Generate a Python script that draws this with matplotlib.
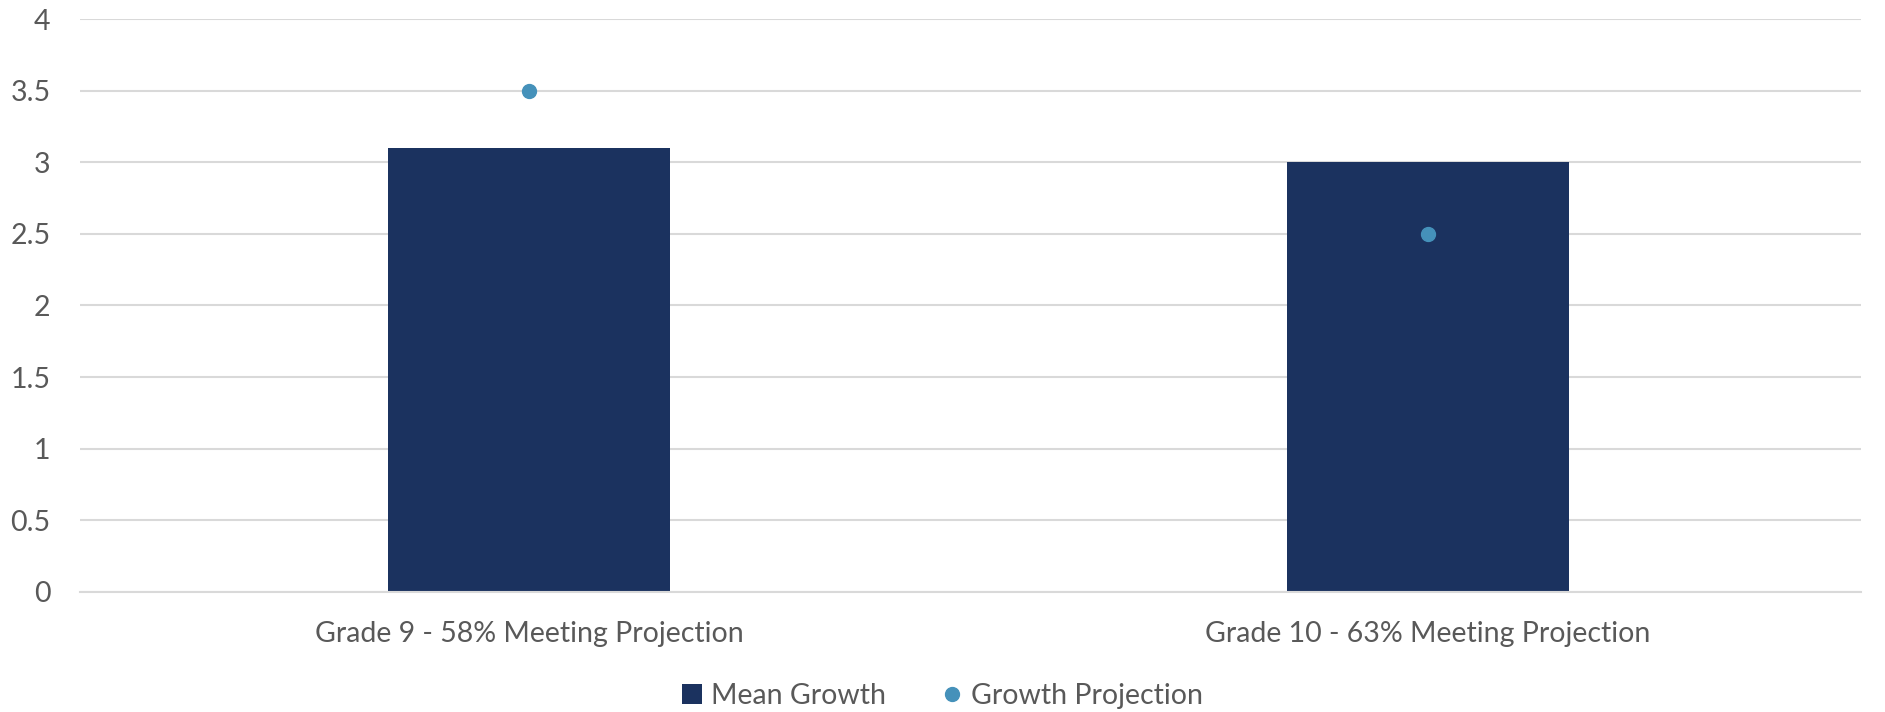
import matplotlib
matplotlib.use("Agg")
import matplotlib.pyplot as plt
import numpy as np

categories = ["Grade 9 - 58% Meeting Projection", "Grade 10 - 63% Meeting Projection"]
mean_growth = [3.1, 3.0]
growth_projection = [3.5, 2.5]
yticks = [0, 0.5, 1, 1.5, 2, 2.5, 3, 3.5, 4]
ytick_labels = ["0", "0.5", "1", "1.5", "2", "2.5", "3", "3.5", "4"]

plt.rcParams['font.family'] = ['Lato', 'DejaVu Sans']
text_color = "#595959"

fig = plt.figure(figsize=(18.85, 7.12), dpi=100)
ax = fig.add_axes([0.0422, 0.169, 0.945, 0.804])

x = np.arange(len(categories))
bars = ax.bar(x, mean_growth, width=0.313, color="#1B325F", zorder=2, label="Mean Growth")
pts, = ax.plot(x, growth_projection, linestyle="none", marker="o", markersize=10,
               color="#4591BA", zorder=3, label="Growth Projection")

ax.set_xlim(-0.5, 1.4816)
ax.set_ylim(0, 4)
ax.set_yticks(yticks)
ax.set_yticklabels(ytick_labels)
ax.set_xticks(x)
ax.set_xticklabels(categories)
ax.yaxis.grid(True, color="#D9D9D9", linewidth=1.5, zorder=0)
ax.set_axisbelow(True)
for s in ["top", "right", "left"]:
    ax.spines[s].set_visible(False)
ax.spines["bottom"].set_color("#D9D9D9")
ax.spines["bottom"].set_linewidth(1.5)
ax.tick_params(axis="both", length=0, labelsize=20.5, colors=text_color)
ax.tick_params(axis="x", pad=21)
ax.tick_params(axis="y", pad=21)

leg = fig.legend([bars, pts], ["Mean Growth", "Growth Projection"], loc="center",
                 bbox_to_anchor=(0.5, 0.023), ncol=2,
                 frameon=False, fontsize=20.5, handlelength=0.7, handletextpad=0.3,
                 columnspacing=2.0, labelcolor=text_color)

fig.savefig("out.png", dpi=100)
